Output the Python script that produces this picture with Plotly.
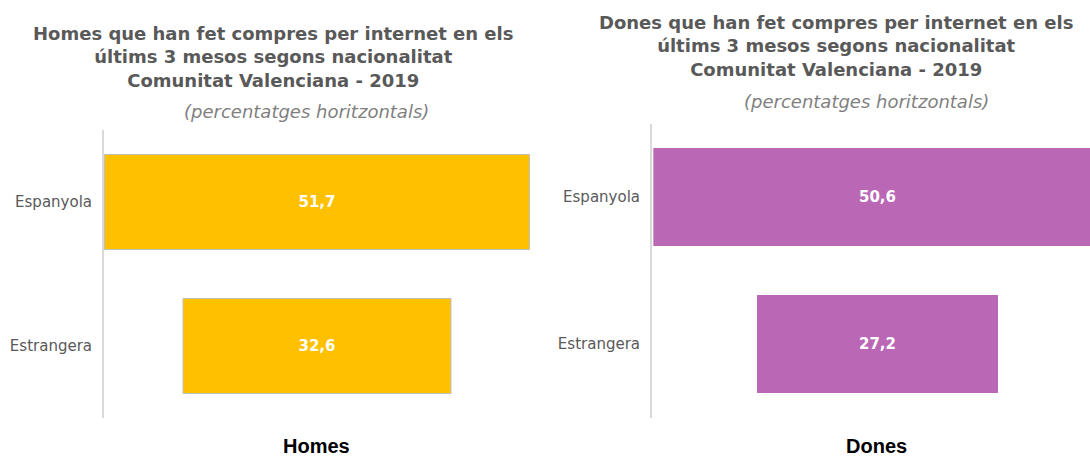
import plotly.graph_objects as go

categories = ["Espanyola", "Estrangera"]
homes = [51.7, 32.6]
dones = [50.6, 27.2]

title_homes = "Homes que han fet compres per internet en els<br>últims 3 mesos segons nacionalitat<br>Comunitat Valenciana - 2019"
title_dones = "Dones que han fet compres per internet en els<br>últims 3 mesos segons nacionalitat<br>Comunitat Valenciana - 2019"
subtitle = "(percentatges horitzontals)"
label_homes = "Homes"
label_dones = "Dones"

W, H = 1090, 457

def px(x):
    return x / W

def py(y):
    return 1 - y / H

fig = go.Figure()
fig.add_trace(go.Bar(
    y=categories, x=homes, base=[-v / 2 for v in homes], orientation="h",
    marker=dict(color="#FFC000", line=dict(color="#BFBFBF", width=1)),
    width=0.66, texttemplate="<b>%{x:.1f}</b>", textposition="inside",
    insidetextanchor="middle", textangle=0, constraintext="none",
    textfont=dict(color="white", size=15, family="DejaVu Sans"),
    xaxis="x", yaxis="y", showlegend=False, hoverinfo="skip"))
fig.add_trace(go.Bar(
    y=categories, x=dones, base=[-v / 2 for v in dones], orientation="h",
    marker=dict(color="#BA68B5", line=dict(width=0)),
    width=0.667, texttemplate="<b>%{x:.1f}</b>", textposition="inside",
    insidetextanchor="middle", textangle=0, constraintext="none",
    textfont=dict(color="white", size=15, family="DejaVu Sans"),
    xaxis="x2", yaxis="y2", showlegend=False, hoverinfo="skip", cliponaxis=True))

axis_y = dict(showline=True, linecolor="#D9D9D9", linewidth=2, ticks="",
              showgrid=False, zeroline=False, ticklabelstandoff=7,
              tickfont=dict(family="DejaVu Sans", size=15, color="#595959"),
              categoryorder="array", categoryarray=categories, range=[1.5, -0.5])
axis_x = dict(visible=False, showgrid=False, zeroline=False)

fig.update_layout(
    width=W, height=H, margin=dict(l=0, r=0, t=0, b=0),
    plot_bgcolor="white", paper_bgcolor="white", separators=",.",
    barmode="overlay",
    xaxis=dict(axis_x, domain=[px(104), px(530)], range=[-(317 - 104) / 8.22, (530 - 317) / 8.22]),
    yaxis=dict(axis_y, domain=[py(418), py(130)], anchor="x"),
    xaxis2=dict(axis_x, domain=[px(652), 1.0], range=[-(877.5 - 652) / 8.86, (1090 - 877.5) / 8.86], anchor="y2"),
    yaxis2=dict(axis_y, domain=[py(417.5), py(123.5)], anchor="x2"),
)

title_font = dict(family="DejaVu Sans", size=18, color="#595959")
sub_font = dict(family="DejaVu Sans", size=18, color="#7F7F7F")
ann = [
    dict(text="<b>" + title_homes + "</b>", x=px(273), y=py(57), font=title_font),
    dict(text="<i>" + subtitle + "</i>", x=px(306), y=py(112), font=sub_font),
    dict(text="<b>" + title_dones + "</b>", x=px(836), y=py(46), font=title_font),
    dict(text="<i>" + subtitle + "</i>", x=px(866), y=py(102), font=sub_font),
    dict(text="<b>" + label_homes + "</b>", x=px(316), y=py(446), font=dict(family="Liberation Sans", size=20, color="black")),
    dict(text="<b>" + label_dones + "</b>", x=px(876), y=py(446), font=dict(family="Liberation Sans", size=20, color="black")),
]
for a in ann:
    fig.add_annotation(xref="paper", yref="paper", xanchor="center", yanchor="middle",
                       showarrow=False, align="center", **a)

fig.write_html("out.html", config={"displayModeBar": False},
               post_script="document.body.style.margin='0';")
